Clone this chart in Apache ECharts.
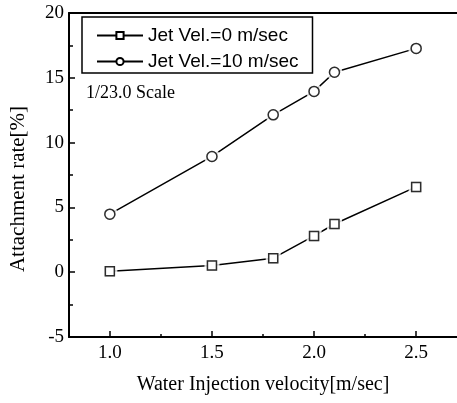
<!DOCTYPE html>
<html>
<head>
<meta charset="utf-8">
<style>
  html, body { margin: 0; padding: 0; background: #fff; }
  #chart { width: 457px; height: 403px; }
</style>
<script src="https://cdn.jsdelivr.net/npm/echarts@6/dist/echarts.min.js"></script>
</head>
<body>
<div id="chart"></div>
<script>
// Water injection velocity [m/sec] and attachment rate [%] for each jet velocity
const velocity0 = [1.0, 1.5, 1.8, 2.0, 2.1, 2.5];
const rate0 = [0.08, 0.52, 1.08, 2.8, 3.72, 6.58];
const velocity10 = [1.0, 1.5, 1.8, 2.0, 2.1, 2.5];
const rate10 = [4.48, 8.93, 12.14, 13.95, 15.43, 17.27];

const seriesNames = ['Jet Vel.=0 m/sec', 'Jet Vel.=10 m/sec'];
const xMajorTicks = [1.0, 1.5, 2.0, 2.5];
const xMinorTicks = [1.25, 1.75, 2.25];
const yTicks = [-5, 0, 5, 10, 15, 20];

const serif = '"Liberation Serif", "Times New Roman", serif';
const sans = '"Liberation Sans", Arial, sans-serif';

function pairs(xs, ys) { return xs.map((x, i) => [x, ys[i]]); }

const markerDefs = [
  { name: seriesNames[0], data: pairs(velocity0, rate0), symbol: 'rect', size: 9 },
  { name: seriesNames[1], data: pairs(velocity10, rate10), symbol: 'circle', size: 10 }
];

const series = [];
markerDefs.forEach(function (d) {
  // connecting line with hollow markers
  series.push({
    name: d.name, type: 'line', data: d.data, z: 2,
    symbol: d.symbol, symbolSize: d.size,
    lineStyle: { color: '#000', width: 1.5 },
    itemStyle: { color: '#fff', borderColor: '#000', borderWidth: 1.5 },
    emphasis: { disabled: true }, animation: false
  });
  // white halo leaving a small gap between line and marker
  series.push({
    name: d.name + ' halo', type: 'scatter', data: d.data, z: 3, silent: true,
    symbol: d.symbol, symbolSize: d.size + 6,
    itemStyle: { color: '#fff', borderWidth: 0 },
    animation: false
  });
  series.push({
    name: d.name + ' marker', type: 'scatter', data: d.data, z: 4, silent: true,
    symbol: d.symbol, symbolSize: d.size,
    itemStyle: { color: '#fff', borderColor: '#000', borderWidth: 1.5 },
    animation: false
  });
});

const chart = echarts.init(document.getElementById('chart'), null, { renderer: 'canvas' });
chart.setOption({
  backgroundColor: '#fff',
  animation: false,
  grid: { left: 67, right: 0, top: 13, bottom: 66, containLabel: false },
  title: {
    text: '1/23.0 Scale', left: 81, top: 79,
    textStyle: { fontFamily: serif, fontSize: 18, fontWeight: 'normal', color: '#000' }
  },
  legend: {
    data: seriesNames,
    orient: 'vertical', left: 82, top: 17,
    padding: [9, 14, 2, 14],
    itemGap: 7, itemWidth: 46, itemHeight: 9,
    borderColor: '#000', borderWidth: 1.5, borderRadius: 0,
    selectedMode: false,
    textStyle: { fontFamily: sans, fontSize: 19, color: '#000' }
  },
  xAxis: [
    {
      type: 'value', position: 'bottom', min: 0.8, max: 2.7,
      name: 'Water Injection velocity[m/sec]', nameLocation: 'middle', nameGap: 38,
      nameTextStyle: { fontFamily: serif, fontSize: 20, color: '#000' },
      axisLine: { show: true, onZero: false, lineStyle: { color: '#000', width: 2 } },
      axisTick: { show: true, inside: true, length: 6, customValues: xMajorTicks, lineStyle: { color: '#000', width: 1.5 } },
      axisLabel: { customValues: xMajorTicks, formatter: v => v.toFixed(1), fontFamily: serif, fontSize: 19, color: '#000', margin: 7 },
      splitLine: { show: false }
    },
    {
      type: 'value', position: 'bottom', min: 0.8, max: 2.7,
      axisLine: { show: false, onZero: false },
      axisTick: { show: true, inside: true, length: 3, customValues: xMinorTicks, lineStyle: { color: '#000', width: 1.5 } },
      axisLabel: { show: false },
      splitLine: { show: false }
    },
    {
      type: 'value', position: 'top', min: 0.8, max: 2.7,
      axisLine: { show: true, onZero: false, lineStyle: { color: '#000', width: 2 } },
      axisTick: { show: false }, axisLabel: { show: false }, splitLine: { show: false }
    }
  ],
  yAxis: {
    type: 'value', min: yTicks[0], max: yTicks[yTicks.length - 1], interval: 5,
    name: 'Attachment rate[%]', nameLocation: 'middle', nameGap: 40, nameRotate: 90,
    nameTextStyle: { fontFamily: serif, fontSize: 21, color: '#000', padding: [0, 28, 0, 0] },
    axisLine: { show: true, onZero: false, lineStyle: { color: '#000', width: 2 } },
    axisTick: { show: true, inside: true, length: 6, lineStyle: { color: '#000', width: 1.5 } },
    minorTick: { show: true, splitNumber: 2, length: 4, lineStyle: { color: '#000', width: 1.5 } },
    axisLabel: { fontFamily: serif, fontSize: 19, color: '#000', margin: 5 },
    splitLine: { show: false }
  },
  series: series
});
</script>
</body>
</html>
